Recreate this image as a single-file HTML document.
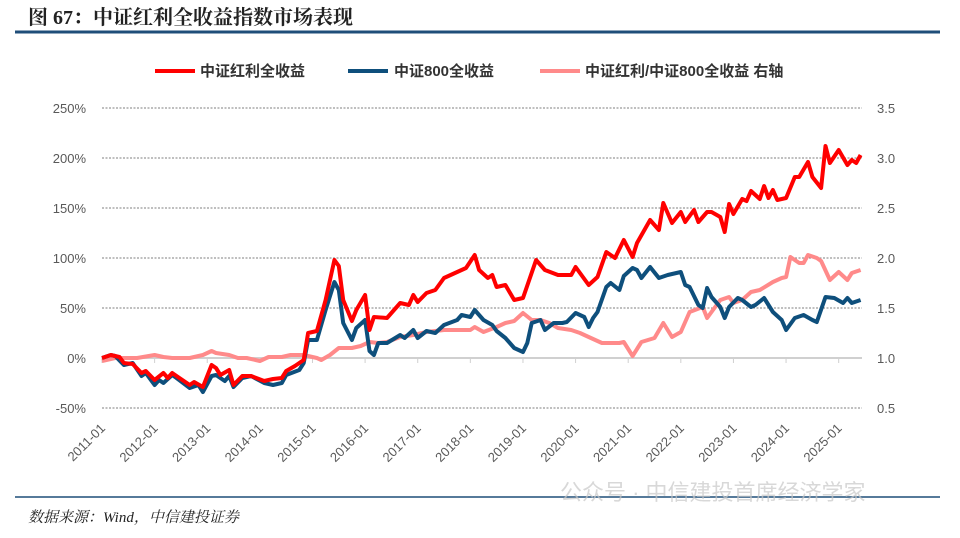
<!DOCTYPE html>
<html><head><meta charset="utf-8"><style>
body{margin:0;background:#fff;width:960px;height:533px;overflow:hidden;font-family:"Liberation Sans","Noto Sans CJK SC",sans-serif}
</style></head><body>
<svg id="chart" width="960" height="533" xmlns="http://www.w3.org/2000/svg">
<text x="28" y="24" font-size="20" font-weight="bold" fill="#222" font-family="Liberation Serif,Noto Serif CJK SC,serif">图 67：中证红利全收益指数市场表现</text>
<line x1="15" y1="32" x2="940" y2="32" stroke="#1f4e79" stroke-width="3"/>
<g font-size="15" font-weight="bold" fill="#333">
<g><line x1="155" y1="71" x2="195" y2="71" stroke="#ff0000" stroke-width="4"/><text x="200" y="76">中证红利全收益</text></g>
<g><line x1="348" y1="71" x2="388" y2="71" stroke="#0e4f7c" stroke-width="4"/><text x="394" y="76">中证800全收益</text></g>
<g><line x1="540" y1="71" x2="580" y2="71" stroke="#ff8a8a" stroke-width="4"/><text x="585" y="76">中证红利/中证800全收益 右轴</text></g>
</g>
<g id="grid"></g><g id="axes"></g><g id="series"></g>
<line x1="15" y1="497" x2="940" y2="497" stroke="#1f4e79" stroke-width="1.5"/>
<text x="28" y="522" font-size="15" font-style="italic" fill="#222" font-family="Liberation Serif,Noto Serif CJK SC,serif">数据来源：Wind，中信建投证券</text>
<text x="560" y="500" font-size="22" fill="#c8c8c8" opacity="0.7">公众号 · 中信建投首席经济学家</text>
</svg>
<script>
const leftTicks=[-50,0,50,100,150,200,250];
const rightTicks=[0.5,1.0,1.5,2.0,2.5,3.0,3.5];
const yearLabels=["2011-01","2012-01","2013-01","2014-01","2015-01","2016-01","2017-01","2018-01","2019-01","2020-01","2021-01","2022-01","2023-01","2024-01","2025-01"];
// months since 2011-01
const redMonths=[0,2,4,5,7,9,10,12,14,15,16,17,20,21,23,25,26,27,29,30,32,34,37,39,41,42,44,46,47,49,51,53,54,55,57,58,60,61,62,65,68,70,71,72,74,76,78,81,83,85,86,88,89,90,92,94,96,99,101,104,107,108,111,113,115,117,119,121,122,125,127,128,130,132,133,135,136,138,139,141,142,143,144,146,147,148,150,151,152,153,154,156,158,159,161,162,164,165,166,168,170,171,172,173];
const redValues=[0,3,1,-5,-6,-15,-13,-22,-15,-20,-15,-18,-27,-24,-29,-7,-10,-17,-12,-27,-18,-18,-23,-21,-20,-13,-8,-2,25,27,58,98,92,58,37,48,63,28,41,40,55,53,63,56,65,68,80,86,90,103,88,80,83,71,73,58,60,98,88,83,83,91,73,81,106,100,118,101,115,138,128,155,135,146,136,148,136,146,146,141,126,154,144,159,157,167,159,172,160,168,158,160,181,181,196,181,170,212,195,208,193,198,195,203];
const blueMonths=[0,2,3,5,7,9,10,12,13,14,16,17,20,22,23,25,26,28,29,30,32,34,37,39,41,42,45,46,47,49,51,53,54,55,57,58,60,61,62,63,65,68,69,71,72,74,76,78,81,82,84,85,87,89,90,92,94,96,97,98,100,101,103,105,106,108,110,111,112,113,115,116,118,119,121,122,123,125,127,129,132,133,134,136,137,138,139,141,142,143,145,146,148,149,151,153,155,156,158,160,162,163,165,167,169,170,171,173];
const blueValues=[0,3,2,-7,-5,-18,-15,-27,-22,-25,-17,-20,-30,-27,-34,-18,-17,-23,-18,-29,-20,-18,-25,-27,-25,-17,-12,-5,18,18,48,76,68,35,18,30,38,7,3,15,15,23,20,28,20,27,25,33,38,43,41,48,38,33,27,20,10,6,15,35,38,28,35,35,36,45,41,31,40,46,71,75,68,82,90,88,80,91,80,83,86,73,71,53,50,70,61,51,40,51,60,58,51,53,60,46,38,28,40,43,38,36,61,60,55,60,55,58];
const ratioMonths=[0,3,6,8,12,14,16,20,23,25,26,29,31,33,36,38,41,43,46,49,50,52,54,57,59,61,63,65,68,71,74,78,81,84,85,87,90,92,94,96,98,100,102,104,107,109,111,114,118,119,121,123,126,128,130,132,134,137,138,141,143,144,146,148,150,153,155,156,157,159,160,161,163,164,166,168,170,171,173];
const ratioValues=[0.97,1.0,1.0,1.0,1.03,1.01,1.0,1.0,1.03,1.07,1.05,1.03,1.0,1.0,0.97,1.01,1.01,1.03,1.03,1.0,0.98,1.03,1.1,1.1,1.12,1.16,1.15,1.16,1.21,1.23,1.26,1.28,1.28,1.28,1.31,1.26,1.31,1.35,1.37,1.45,1.38,1.38,1.35,1.3,1.28,1.25,1.21,1.15,1.15,1.16,1.02,1.16,1.2,1.35,1.21,1.26,1.46,1.51,1.4,1.58,1.61,1.55,1.58,1.66,1.68,1.76,1.8,1.81,2.01,1.95,1.95,2.03,2.0,1.97,1.78,1.86,1.78,1.85,1.88];

const NS="http://www.w3.org/2000/svg";
const X0=102,PX_M=4.385,Y0=358;
const xS=m=>X0+m*PX_M;
const yL=v=>Y0-v;
const yR=r=>Y0-(r-1)*100;
function mk(t,a,p){const e=document.createElementNS(NS,t);for(const k in a)e.setAttribute(k,a[k]);p.appendChild(e);return e;}
const grid=document.getElementById('grid'),axes=document.getElementById('axes'),ser=document.getElementById('series');
leftTicks.forEach(v=>{
  const y=yL(v);
  const l=mk('line',{x1:X0,x2:862,y1:y,y2:y,stroke:v===0?'#d0d0d0':'#555','stroke-width':v===0?2:0.8,'stroke-dasharray':v===0?'':'2,1.5'},grid);
  
  
  const t=mk('text',{x:86,y:y+5,'text-anchor':'end','font-size':13,fill:'#595959'},axes);
  t.textContent=v+'%';
  
  
});
rightTicks.forEach(r=>{
  const t=mk('text',{x:877,y:yR(r)+5,'font-size':13,fill:'#595959'},axes);
  t.textContent=r.toFixed(1);
  
  
});
yearLabels.forEach((s,i)=>{
  const x=xS(i*12);
  const tk=mk('line',{x1:x,x2:x,y1:Y0,y2:Y0+5,stroke:'#d0d0d0','stroke-width':1},axes);
  
  
  const t=mk('text',{x:x+4,y:429,'text-anchor':'end','font-size':13,fill:'#595959',transform:`rotate(-45 ${x+4} 429)`},axes);
  t.textContent=s;
  
  
});
function line(ms,vs,ys,col,name){
  const d=ms.map((m,i)=>(i?'L':'M')+xS(m).toFixed(1)+','+ys(vs[i]).toFixed(1)).join('');
  const p=mk('path',{d:d,fill:'none',stroke:col,'stroke-width':4,'stroke-linejoin':'round'},ser);
  
  
}
line(ratioMonths,ratioValues,yR,'#ff8a8a','ratio-line');
line(blueMonths,blueValues,yL,'#0e4f7c','csi800-line');
line(redMonths,redValues,yL,'#ff0000','dividend-line');
</script>
</body></html>
